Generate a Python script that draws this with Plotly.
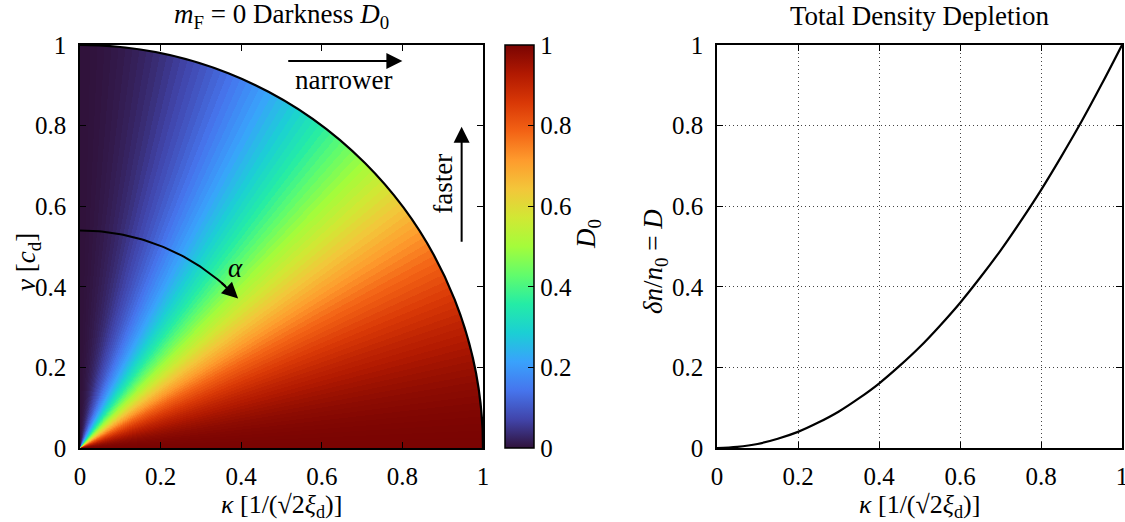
import numpy as np
import plotly.graph_objects as go

# m_F = 0 darkness D0 against the angle alpha (degrees from the v axis, 1 degree steps)
alpha_deg = list(range(0, 91))
d0_vals = [0.000, 0.000, 0.001, 0.003, 0.005, 0.008, 0.011, 0.015, 0.019, 0.024,
           0.030, 0.036, 0.043, 0.051, 0.059, 0.067, 0.076, 0.085, 0.095, 0.106,
           0.117, 0.128, 0.140, 0.153, 0.165, 0.179, 0.192, 0.206, 0.220, 0.235,
           0.250, 0.265, 0.281, 0.297, 0.313, 0.329, 0.345, 0.362, 0.379, 0.396,
           0.413, 0.430, 0.448, 0.465, 0.483, 0.500, 0.517, 0.535, 0.552, 0.570,
           0.587, 0.604, 0.621, 0.638, 0.655, 0.671, 0.687, 0.703, 0.719, 0.735,
           0.750, 0.765, 0.780, 0.794, 0.808, 0.821, 0.835, 0.847, 0.860, 0.872,
           0.883, 0.894, 0.905, 0.915, 0.924, 0.933, 0.941, 0.949, 0.957, 0.964,
           0.970, 0.976, 0.981, 0.985, 0.989, 0.992, 0.995, 0.997, 0.999, 1.000,
           1.000]

# total density depletion delta n / n0 = D against kappa
kappa_pts = [0.00, 0.05, 0.10, 0.15, 0.20, 0.25, 0.30, 0.35, 0.40, 0.45, 0.50,
             0.55, 0.60, 0.65, 0.70, 0.75, 0.80, 0.85, 0.90, 0.95, 1.00]
depletion = [0.000, 0.003, 0.010, 0.023, 0.040, 0.063, 0.090, 0.123, 0.160, 0.203, 0.250,
             0.303, 0.360, 0.423, 0.490, 0.563, 0.640, 0.723, 0.810, 0.903, 1.000]

tick_vals = [0, 0.2, 0.4, 0.6, 0.8, 1]
tick_text = ["0", "0.2", "0.4", "0.6", "0.8", "1"]

W, H = 1125, 522
FONT = "Liberation Serif"
FS_TICK = 25
FS_TEXT = 27


def px_x(p):
    return p / W


def px_y(p):
    return (H - p) / H


# colour map over the quarter disk kappa^2 + v^2 <= 1, each cell taking the D0 of its angle bin
n = 403
centers = (np.arange(n) + 0.5) / n
K, V = np.meshgrid(centers, centers)
ang = np.degrees(np.arctan2(K, V))
step = alpha_deg[1] - alpha_deg[0]
idx = np.clip(np.rint(ang / step).astype(int), 0, len(d0_vals) - 1)
z = np.array(d0_vals)[idx]
z[K ** 2 + V ** 2 > 1.0] = np.nan
z = np.round(z, 4)

fig = go.Figure()

fig.add_trace(go.Heatmap(
    x=centers, y=centers, z=z, xaxis="x", yaxis="y",
    colorscale="Turbo", zmin=0, zmax=1, hoverinfo="skip",
    colorbar=dict(
        thickness=29, thicknessmode="pixels",
        len=403 / H, lenmode="fraction",
        x=px_x(505), xanchor="left", xpad=0,
        y=px_y(448), yanchor="bottom", ypad=0,
        outlinewidth=1.5, outlinecolor="black",
        tickvals=tick_vals, ticktext=tick_text,
        ticks="inside", ticklen=6, tickwidth=1.2, tickcolor="black",
        tickfont=dict(family=FONT, size=FS_TICK, color="black"),
    ),
))

# alpha arc (radius 0.54 around the origin)
arc_r = 0.54
arc_t = np.radians(np.linspace(0, 42, 60))
fig.add_trace(go.Scatter(
    x=arc_r * np.sin(arc_t), y=arc_r * np.cos(arc_t), xaxis="x", yaxis="y",
    mode="lines", line=dict(color="black", width=2), hoverinfo="skip", showlegend=False,
))

fig.add_trace(go.Scatter(
    x=kappa_pts, y=depletion, xaxis="x2", yaxis="y2",
    mode="lines", line=dict(color="black", width=2.2, shape="spline"),
    hoverinfo="skip", showlegend=False,
))

axis_common = dict(
    range=[0, 1], tickvals=tick_vals, ticktext=tick_text,
    ticks="inside", ticklen=6, tickwidth=1.2, tickcolor="black",
    showline=True, linecolor="black", linewidth=1.6, mirror="ticks",
    zeroline=False, fixedrange=True, automargin=False,
    ticklabeloverflow="allow",
    tickfont=dict(family=FONT, size=FS_TICK, color="black"),
)
grid = dict(showgrid=True, gridcolor="#444444", gridwidth=1, griddash="1px,3px")

fig.update_layout(
    width=W, height=H, autosize=False,
    margin=dict(l=0, r=0, t=0, b=0, autoexpand=False),
    paper_bgcolor="white", plot_bgcolor="white",
    showlegend=False,
    xaxis=dict(domain=[px_x(80), px_x(483)], anchor="y", showgrid=False,
               ticklabelstandoff=5, **axis_common),
    yaxis=dict(domain=[px_y(448), px_y(45)], anchor="x", showgrid=False,
               ticklabelstandoff=7, **axis_common),
    xaxis2=dict(domain=[px_x(717), px_x(1122)], anchor="y2", ticklabelstandoff=5,
                **grid, **axis_common),
    yaxis2=dict(domain=[px_y(448), px_y(45)], anchor="x2", ticklabelstandoff=7,
                **grid, **axis_common),
)

# boundary of the allowed region kappa^2 + v^2 = 1
fig.add_shape(type="circle", xref="x", yref="y", x0=-1, y0=-1, x1=1, y1=1,
              line=dict(color="black", width=2.2), layer="above")

txt = dict(family=FONT, size=FS_TEXT, color="black")
ann = []


def label(x, y, text, xref="paper", yref="paper", angle=0, size=FS_TEXT):
    ann.append(dict(x=x, y=y, xref=xref, yref=yref, text=text, showarrow=False,
                    textangle=angle, font=dict(txt, size=size),
                    xanchor="center", yanchor="middle"))


label(px_x(281.5), px_y(16), "<i>m</i><sub>F</sub> = 0 Darkness <i>D</i><sub>0</sub>")
label(px_x(919.5), px_y(16), "Total Density Depletion")
label(px_x(281.5), px_y(506), "<i>κ</i> [1/(√2<i>ξ</i><sub>d</sub>)]", size=26)
label(px_x(919.5), px_y(506), "<i>κ</i> [1/(√2<i>ξ</i><sub>d</sub>)]", size=26)
label(px_x(28), px_y(262), "<i>v</i> [<i>c</i><sub>d</sub>]", angle=-90)
label(px_x(655), px_y(262), "<i>δn</i>/<i>n</i><sub>0</sub> = <i>D</i>", angle=-90)
label(px_x(588), px_y(234), "<i>D</i><sub>0</sub>", angle=-90)

label(0.655, 0.913, "narrower", "x", "y")
label(0.90, 0.655, "faster", "x", "y", angle=-90)
label(0.385, 0.447, "<i>α</i>", "x", "y")

arrow = dict(xref="x", yref="y", axref="x", ayref="y", text="", showarrow=True,
             arrowhead=2, arrowsize=1.6, arrowwidth=2, arrowcolor="black", standoff=0)
ann.append(dict(x=0.80, y=0.96, ax=0.513, ay=0.96, **arrow))
ann.append(dict(x=0.947, y=0.797, ax=0.947, ay=0.508, **arrow))
tip = np.radians(46.6)
tail = np.radians(40.0)
ann.append(dict(x=arc_r * np.sin(tip), y=arc_r * np.cos(tip),
                ax=arc_r * np.sin(tail), ay=arc_r * np.cos(tail), **arrow))

fig.update_layout(annotations=ann)

fig.write_html("out.html")
